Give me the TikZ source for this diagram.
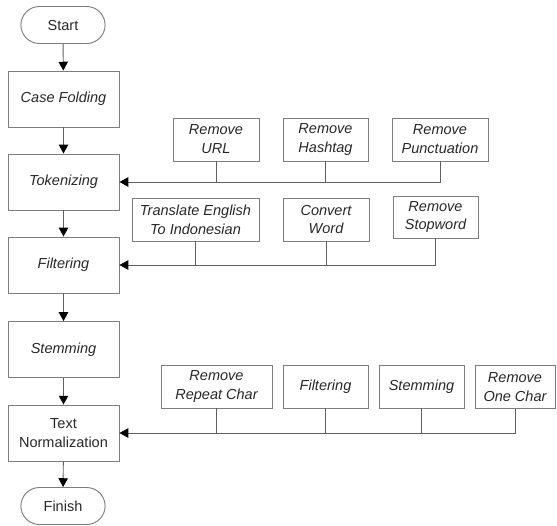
\documentclass[tikz,border=0pt]{standalone}
\usepackage{fontspec}
\setmainfont{Liberation Sans}
\usetikzlibrary{positioning}
\usetikzlibrary{arrows.meta}
\usetikzlibrary{shapes.misc}
\definecolor{boxgray}{RGB}{125,125,125}
\definecolor{linegray}{RGB}{95,95,95}
\definecolor{txtgray}{RGB}{40,40,40}

\begin{document}
\begin{tikzpicture}[x=0.03cm, y=-0.03cm, >={Triangle[width=8pt,length=7.5pt,color=black]},
    term/.style={rounded rectangle, draw=boxgray, thick, minimum width=2.76cm, minimum height=1.11cm, text=txtgray, font=\fontsize{12.4}{16.2}\selectfont},
    proc/.style={rectangle, draw=boxgray, thick, minimum width=3.33cm, minimum height=1.68cm, align=center, text=txtgray, font=\fontsize{12.4}{16.2}\selectfont\itshape},
    side/.style={rectangle, draw=boxgray, thick, minimum height=1.29cm, inner sep=1pt, align=center, text=txtgray, font=\fontsize{12.4}{16.2}\selectfont\itshape},
    flow/.style={->, thick, draw=linegray},
    bus/.style={thick, draw=linegray}]

    \useasboundingbox (0,0) rectangle (557,525);

    % Main column
    \node[term] (start) at (63,25) {Start};
    \node[proc] (fold) at (63.5,99) {Case Folding};
    \node[proc] (tok) at (63.5,182) {Tokenizing};
    \node[proc] (filt) at (63.5,265) {Filtering};
    \node[proc] (stem) at (63.5,349.5) {Stemming};
    \node[proc, font=\fontsize{12.4}{16.2}\selectfont] (norm) at (63.5,433) {Text\\Normalization};
    \node[term] (finish) at (63,506) {Finish};

    \draw[flow] (start) -- (fold);
    \draw[flow] (fold) -- (tok);
    \draw[flow] (tok) -- (filt);
    \draw[flow] (filt) -- (stem);
    \draw[flow] (stem) -- (norm);
    \draw[flow] (norm) -- (finish);

    % Tokenizing steps
    \node[side, minimum width=2.58cm] (url) at (216,139.5) {Remove\\URL};
    \node[side, minimum width=2.55cm] (hash) at (325.5,139.5) {Remove\\Hashtag};
    \node[side, minimum width=2.88cm] (punct) at (440,139.5) {Remove\\Punctuation};
    \draw[flow] (punct.south) |- (tok.east);
    \draw[bus] (url.south) -- (url.south |- tok.east);
    \draw[bus] (hash.south) -- (hash.south |- tok.east);

    % Filtering steps
    \node[side, minimum width=3.81cm] (trans) at (195.5,219.5) {Translate English\\To Indonesian};
    \node[side, minimum width=2.58cm] (conv) at (326,219.5) {Convert\\Word};
    \node[side, minimum width=2.55cm, minimum height=1.26cm] (stop) at (435.5,217) {Remove\\Stopword};
    \draw[flow] (stop.south) |- (filt.east);
    \draw[bus] (trans.south) -- (trans.south |- filt.east);
    \draw[bus] (conv.south) -- (conv.south |- filt.east);

    % Normalization steps
    \node[side, minimum width=3.33cm] (rep) at (216.5,386.5) {Remove\\Repeat Char};
    \node[side, minimum width=2.55cm] (filt2) at (325.5,386.5) {Filtering};
    \node[side, minimum width=2.55cm] (stem2) at (421.5,386.5) {Stemming};
    \node[side, minimum width=2.40cm] (one) at (515,387) {Remove\\One Char};
    \draw[flow] (one.south) |- (norm.east);
    \draw[bus] (rep.south) -- (rep.south |- norm.east);
    \draw[bus] (filt2.south) -- (filt2.south |- norm.east);
    \draw[bus] (stem2.south) -- (stem2.south |- norm.east);
\end{tikzpicture}
\end{document}
